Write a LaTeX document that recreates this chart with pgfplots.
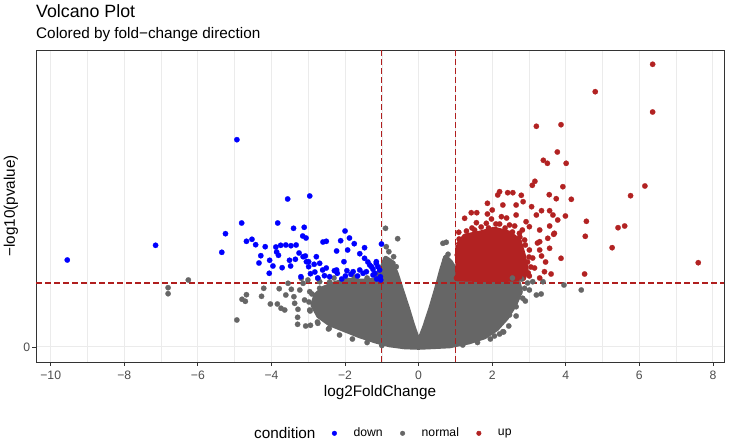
\documentclass[border=0pt]{standalone}
\usepackage{pgfplots}
\pgfplotsset{compat=1.18}
\usepackage{fontspec}
\setmainfont{Liberation Sans}
\definecolor{ptgray}{HTML}{666666}
\definecolor{ptred}{HTML}{B22222}
\definecolor{ptblue}{HTML}{0000FF}
\definecolor{gridc}{HTML}{EBEBEB}
\definecolor{framec}{HTML}{333333}
\definecolor{tickc}{HTML}{4D4D4D}
\definecolor{dashc}{HTML}{B01E1E}
\begin{document}
\begin{tikzpicture}
\path[use as bounding box] (0,0) rectangle (733bp,443bp);
\node[anchor=base west, inner sep=0pt, font=\fontsize{17.8bp}{20bp}\selectfont] at (36bp,425.7bp) {Volcano Plot};
\node[anchor=base west, inner sep=0pt, font=\fontsize{15.3bp}{18bp}\selectfont] at (36bp,404.7bp) {Colored by fold−change direction};
\node[anchor=base west, inner sep=0pt, font=\fontsize{15.3bp}{18bp}\selectfont] at (254bp,5bp) {condition};
\begin{axis}[
 at={(36bp,81bp)}, anchor=south west,
 scale only axis, width=688bp, height=312bp,
 xmin=-10.4, xmax=8.3, ymin=-1.5, ymax=29.7,
 xtick={-10,-8,...,8}, xticklabels={−10,−8,−6,−4,−2,0,2,4,6,8},
 ytick={0}, yticklabels={0},
 minor x tick num=1,
 xmajorgrids, xminorgrids, ymajorgrids,
 major grid style={gridc, line width=1bp},
 minor grid style={gridc, line width=0.55bp},
 axis line style={framec, line width=0.9bp},
 tick style={framec, line width=0.9bp},
 major tick length=3.7bp, minor tick length=0pt,
 tick align=outside, xtick pos=bottom, ytick pos=left,
 xticklabel style={font=\fontsize{12.2bp}{14bp}\selectfont, text=tickc, anchor=base, inner sep=0pt, yshift=-14bp},
 yticklabel style={font=\fontsize{12.2bp}{14bp}\selectfont, text=tickc, anchor=east, inner sep=0pt, xshift=-2bp},
 xlabel={log2FoldChange}, ylabel={−log10(pvalue)},
 xlabel style={font=\fontsize{15.3bp}{18bp}\selectfont, at={(axis description cs:0.5,-0.1106)}, anchor=base, inner sep=0pt},
 ylabel style={font=\fontsize{15.3bp}{18bp}\selectfont, at={(axis description cs:-0.0363,0.5)}, anchor=center, inner sep=0pt},
 legend image code/.code={\draw[#1] plot coordinates {(0bp,0bp)};},
 legend columns=-1,
 legend cell align=left,
 legend style={draw=none, fill=none, at={(axis description cs:0.4304,-0.2285)}, anchor=west, inner sep=0pt, outer sep=0pt,
   nodes={inner sep=0pt, font=\fontsize{12.2bp}{14bp}\selectfont, text=black},
   /tikz/every odd column/.append style={column sep=16.8bp},
   /tikz/every even column/.append style={column sep=17.6bp}},
 gpts/.style={forget plot, only marks, mark=*, mark size=2.7bp, color=ptgray, mark options={solid, fill=ptgray, draw=ptgray, line width=0.2bp}},
 rpts/.style={forget plot, only marks, mark=*, mark size=2.7bp, color=ptred, mark options={solid, fill=ptred, draw=ptred, line width=0.2bp}},
 bpts/.style={forget plot, only marks, mark=*, mark size=2.7bp, color=ptblue, mark options={solid, fill=ptblue, draw=ptblue, line width=0.2bp}},
 thr/.style={forget plot, no markers, color=dashc, draw=dashc, line width=1.25bp, dash pattern=on 5.5bp off 3.5bp},
]
\addlegendimage{only marks, mark=*, mark size=2.3bp, color=ptblue, mark options={fill=ptblue, draw=ptblue}}
\addlegendentry{down}
\addlegendimage{only marks, mark=*, mark size=2.3bp, color=ptgray, mark options={fill=ptgray, draw=ptgray}}
\addlegendentry{normal}
\addlegendimage{only marks, mark=*, mark size=2.3bp, color=ptred, mark options={fill=ptred, draw=ptred}}
\addlegendentry{up}
% dense gray mass (non-significant genes)
\addplot[forget plot, no markers, fill=ptgray, draw=ptgray, line width=4.6bp, line join=round] table {
-2.25 6.4
-1.93 6.7
-1.55 6.6
-1.19 6.7
-1.00 7.9
-0.90 8.9
-0.73 8.5
-0.60 7.3
-0.46 5.7
-0.30 3.9
-0.16 2.2
0.00 0.5
0.16 2.0
0.33 3.9
0.49 5.9
0.62 7.7
0.73 9.0
0.87 8.5
1.00 7.7
1.38 6.6
2.20 6.5
2.72 6.4
2.77 5.5
2.61 4.2
2.39 2.9
2.12 1.8
1.79 1.0
1.38 0.5
0.84 0.1
0.30 0.0
0.00 -0.05
-0.38 0.0
-0.79 0.2
-1.19 0.6
-1.60 1.1
-2.01 1.7
-2.42 2.3
-2.72 3.1
-2.88 4.2
-2.80 5.2
-2.58 5.9
-2.25 6.4
};
\addplot[gpts] table {
-6.26 6.7
-6.81 5.93
-6.81 5.33
-4.94 2.7
-4.68 5.23
-4.80 4.77
-4.71 4.57
-4.27 5.07
-4.21 5.87
-4.03 4.3
-3.84 4.3
-3.74 3.87
-3.64 3.7
-3.79 5.83
-3.55 6.37
-3.46 5.77
-3.61 5.2
-3.39 5.03
-3.37 4.37
-3.28 3.77
-3.29 2.97
-3.29 2.27
-3.07 2.1
-2.94 2.17
-2.74 2.37
-2.43 1.87
-0.90 11.87
-0.57 10.83
-0.81 9.53
-0.68 9.03
-0.88 10.03
-0.61 8.03
-0.70 8.37
-2.69 5.87
-2.69 6.53
-2.74 6.87
-3.19 6.87
-3.01 6.7
-2.96 5.53
-3.23 5.7
-3.14 6.37
-3.10 4.7
-2.96 3.7
-2.42 6.5
0.75 10.47
0.80 9.27
0.72 8.7
0.66 10.37
2.88 5.87
2.83 4.87
2.65 4.03
2.47 3.2
2.29 1.53
2.06 1.1
2.31 1.5
3.20 5.2
3.33 5.3
3.95 6.2
4.42 5.7
3.10 6.53
3.38 6.53
2.96 6.4
3.01 5.7
-2.75 2.5
-2.45 1.8
-2.15 1.2
-1.80 0.8
-1.40 0.45
-1.00 0.15
-2.98 4.5
-2.95 3.6
-2.90 5.3
-2.30 6.9
-1.75 7.0
-1.40 6.9
2.65 3.1
2.45 2.1
2.20 1.3
2.90 4.6
1.95 0.8
1.60 0.45
1.20 0.2
2.55 6.9
2.80 6.8
};
% dense red core (up-regulated)
\addplot[forget plot, no markers, fill=ptred, draw=ptred, line width=4.6bp, line join=round] table {
1.06 10.2
1.25 11.1
1.66 11.4
2.06 11.8
2.47 11.4
2.74 10.6
2.85 9.2
2.93 7.7
2.85 6.8
1.93 6.7
1.06 6.8
1.06 10.2
};
\addplot[rpts] table {
6.36 28.27
4.80 25.53
6.36 23.5
3.20 22.07
3.87 22.23
3.77 19.5
3.39 18.67
3.50 18.37
4.01 18.37
3.16 16.57
3.09 16.17
3.92 16.03
3.55 15.23
3.74 14.83
4.15 14.77
6.15 16.1
5.76 15.13
4.56 12.57
4.53 11.07
5.42 11.93
5.60 12.1
5.26 9.93
7.60 8.43
3.87 8.87
4.51 7.3
3.99 13.1
2.79 15.17
2.84 14.53
3.07 14.03
3.34 13.63
3.56 13.63
3.65 13.2
3.78 12.7
3.67 11.27
3.51 10.87
3.56 9.87
3.29 9.7
3.42 7.53
3.60 7.3
2.20 15.53
2.42 15.43
2.56 15.43
2.15 15.2
1.87 14.37
2.29 14.2
2.65 14.2
1.43 13.43
1.58 13.43
2.00 13.7
1.25 12.87
1.57 12.43
1.84 12.37
2.25 13.03
2.65 13.2
2.92 12.53
3.20 13.2
1.09 11.47
1.38 10.6
1.75 11.37
2.02 11.7
2.47 12.2
2.74 11.37
3.01 12.03
3.29 11.7
3.56 12.1
3.69 11.37
3.29 10.53
1.11 10.2
1.25 9.5
1.52 9.9
1.71 10.7
1.93 10.2
2.15 10.9
2.34 10.4
2.53 10.9
2.70 10.0
2.88 10.7
3.01 9.7
3.10 8.9
2.96 8.5
3.15 7.9
3.01 7.1
3.29 6.9
2.74 7.0
2.20 12.3
2.39 12.9
1.98 12.8
1.87 13.3
1.52 11.7
1.17 8.5
1.06 7.7
1.03 6.9
3.45 8.5
3.34 9.1
3.23 10.4
2.61 12.1
2.82 11.7
1.10 10.8
1.30 11.6
1.45 11.9
1.70 12.0
1.90 11.9
2.10 12.3
2.35 11.9
2.55 11.5
2.75 11.0
2.90 10.2
3.00 9.0
3.05 8.0
2.98 7.4
1.05 9.2
1.15 9.9
};
\addplot[bpts] table {
-9.55 8.7
-7.15 10.17
-4.94 20.73
-5.35 9.47
-5.25 11.33
-4.81 12.4
-3.56 14.8
-2.96 15.1
-3.83 12.4
-3.40 11.87
-3.11 11.97
-3.15 11.1
-3.06 10.9
-2.00 11.6
-1.88 10.9
-4.68 10.57
-4.53 10.77
-4.43 10.23
-4.17 10.03
-3.88 10.0
-3.75 10.17
-3.61 10.2
-3.47 10.13
-3.33 10.2
-2.60 10.5
-2.51 10.57
-2.12 10.63
-1.93 9.7
-1.75 10.33
-1.47 9.93
-1.01 10.3
-2.23 9.6
-1.60 9.33
-1.47 8.87
-4.29 9.13
-4.34 8.4
-4.05 8.67
-3.96 8.1
-4.06 7.37
-3.81 9.17
-3.86 9.5
-3.51 8.67
-3.35 8.77
-3.25 9.4
-3.48 8.1
-3.71 7.93
-3.08 9.1
-2.78 9.03
-2.99 8.53
-2.84 8.27
-2.69 8.37
-2.99 8.03
-2.94 7.33
-3.20 7.03
-2.82 7.5
-2.61 7.7
-2.51 7.9
-2.56 7.13
-2.29 7.63
-2.21 7.37
-2.03 8.53
-1.95 7.63
-1.99 7.1
-1.84 7.27
-1.60 7.7
-1.51 7.37
-1.33 8.2
-1.24 7.77
-1.15 8.53
-1.11 8.03
-1.19 7.37
-1.06 7.7
-1.04 7.03
-1.24 7.2
-2.42 7.03
-1.15 8.37
-1.28 8.03
-1.42 7.53
-1.78 7.53
-2.23 7.7
-3.05 8.53
-3.14 9.03
-1.38 8.5
-1.14 6.8
-1.03 6.7
-1.66 7.1
-2.09 6.8
-2.74 6.9
};
% threshold lines
\addplot[thr] coordinates {(-1,-1.5) (-1,29.7)};
\addplot[thr] coordinates {(1,-1.5) (1,29.7)};
\addplot[thr] coordinates {(-10.4,6.4) (8.3,6.4)};
\end{axis}
\end{tikzpicture}
\end{document}
